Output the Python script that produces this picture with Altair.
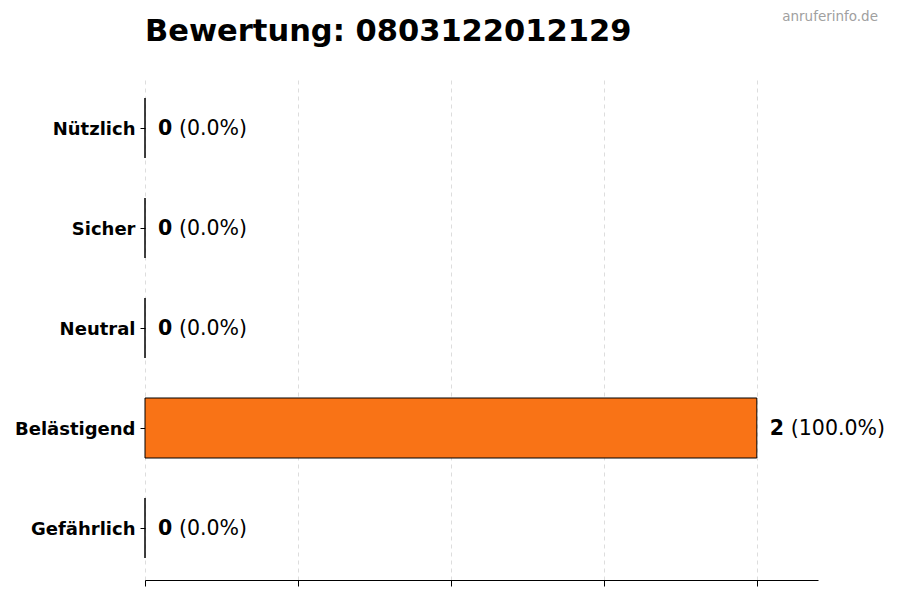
import pandas as pd
import altair as alt

categories = ['Nützlich', 'Sicher', 'Neutral', 'Belästigend', 'Gefährlich']
counts = [0, 0, 0, 2, 0]
percents = ['(0.0%)', '(0.0%)', '(0.0%)', '(100.0%)', '(0.0%)']
x_ticks = [0, 0.5, 1, 1.5, 2]

title_text = 'Bewertung: 0803122012129'
watermark = 'anruferinfo.de'

data = pd.DataFrame({'kategorie': categories, 'anzahl': counts, 'prozent': percents})

font = 'DejaVu Sans'

y_enc = alt.Y(
    'kategorie:N',
    sort=categories,
    title=None,
    scale=alt.Scale(paddingInner=0.4, paddingOuter=0.22),
    axis=alt.Axis(
        labelFont=font, labelFontSize=18, labelFontWeight='bold', labelColor='black',
        tickColor='black', tickSize=5, labelPadding=5, labelOffset=1.5,
        domain=False, grid=False,
    ),
)
x_enc = alt.X(
    'anzahl:Q',
    title=None,
    scale=alt.Scale(domain=[0, 2.2], nice=False),
    axis=alt.Axis(
        values=x_ticks, labels=False, tickColor='black', tickSize=6,
        domainColor='black', grid=True, gridColor='#dddddd', gridDash=[4, 4],
    ),
)

bars = (
    alt.Chart(data)
    .mark_bar(color='#f97316', stroke='black', strokeWidth=1)
    .encode(x_enc, y_enc)
)

count_text = (
    alt.Chart(data)
    .mark_text(align='left', baseline='middle', dx=13, dy=1, font=font, fontSize=20.5, fontWeight='bold', color='black')
    .encode(x='anzahl:Q', y=alt.Y('kategorie:N', sort=categories), text='anzahl:Q')
)
pct_text = (
    alt.Chart(data)
    .mark_text(align='left', baseline='middle', dx=34, dy=1, font=font, fontSize=20.5, color='black')
    .encode(x='anzahl:Q', y=alt.Y('kategorie:N', sort=categories), text='prozent:N')
)

# Titel und Wasserzeichen als Textebenen
title_layer = (
    alt.Chart(pd.DataFrame({'t': [title_text]}))
    .mark_text(align='left', baseline='alphabetic', font=font, fontSize=30.5, fontWeight='bold', color='black')
    .encode(x=alt.value(0), y=alt.value(-35), text='t:N')
)
mark_layer = (
    alt.Chart(pd.DataFrame({'t': [watermark]}))
    .mark_text(align='right', baseline='middle', font=font, fontSize=13.5, color='#a0a0a0')
    .encode(x=alt.value(733), y=alt.value(-59), text='t:N')
)

chart = (
    alt.layer(bars, count_text, pct_text, title_layer, mark_layer)
    .properties(
        width=673,
        height=504,
        padding={'left': 137, 'top': 68, 'right': 70, 'bottom': 10},
        autosize=alt.AutoSizeParams(type='none'),
    )
    .configure_view(stroke=None)
)

chart.save('out.html', embed_options={'renderer': 'svg', 'actions': False})
